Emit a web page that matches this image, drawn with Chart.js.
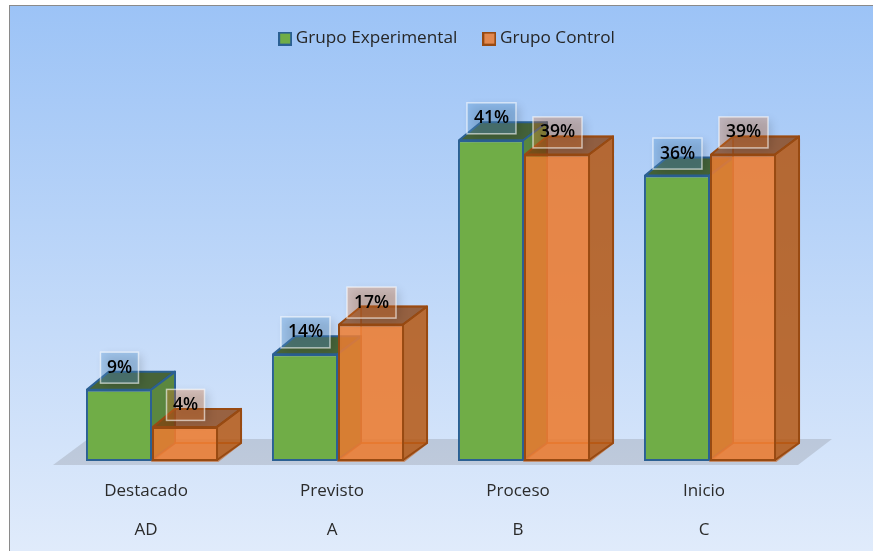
<!DOCTYPE html>
<html>
<head>
<meta charset="utf-8">
<style>
html, body { margin: 0; padding: 0; background: #fff; }
canvas { display: block; }
</style>
<script src="https://cdn.jsdelivr.net/npm/chart.js@4/dist/chart.umd.min.js"></script>
</head>
<body>
<canvas id="chart" width="873" height="551"></canvas>
<script>
const categories = ['Destacado', 'Previsto', 'Proceso', 'Inicio'];
const levels = ['AD', 'A', 'B', 'C'];
const seriesNames = ['Grupo Experimental', 'Grupo Control'];
// percentages, shown rounded on the labels
const experimental = [9.1, 13.6, 40.9, 36.4];
const control = [4.35, 17.4, 39.1, 39.1];

const FONT = '"Open Sans", sans-serif';
const DEPTH_X = 23;
const DEPTH_Y = 18;

const looks = [
    { front: '#70ad47', line: '#2b6093', side: 'rgba(84,130,53,0.95)', top: 'rgba(56,87,35,0.9)', inner: null, tag: 'rgba(91,155,213,0.35)' },
    { front: 'rgba(237,125,49,0.85)', line: '#984a12', side: 'rgba(180,85,15,0.8)', top: 'rgba(132,60,12,0.72)', inner: 'rgba(197,90,17,0.2)', innerLine: 'rgba(197,90,17,0.55)', tag: 'rgba(237,125,49,0.3)' }
];

const quad = (ctx, pts, fill, stroke) => {
    ctx.beginPath();
    pts.forEach((p, i) => i ? ctx.lineTo(p[0], p[1]) : ctx.moveTo(p[0], p[1]));
    ctx.closePath();
    if (fill) { ctx.fillStyle = fill; ctx.fill(); }
    if (stroke) { ctx.strokeStyle = stroke; ctx.lineWidth = 2; ctx.lineJoin = 'round'; ctx.stroke(); }
};

// Small square for the legend, so the text can sit close to it
const legendSwatch = (look) => {
    const c = document.createElement('canvas');
    c.width = 14;
    c.height = 14;
    const g = c.getContext('2d');
    g.fillStyle = look.front;
    g.fillRect(1, 1, 12, 12);
    g.strokeStyle = look.line;
    g.lineWidth = 2;
    g.strokeRect(1, 1, 12, 12);
    return c;
};

// Page gradient, frame and the grey floor under the bars
const backdrop = {
    id: 'backdrop',
    beforeDraw: (chart) => {
        const { ctx, width, height, chartArea: { left, right, bottom } } = chart;
        ctx.save();
        ctx.fillStyle = '#fff';
        ctx.fillRect(0, 0, width, height);
        const g = ctx.createLinearGradient(0, 5, 0, height);
        g.addColorStop(0, '#9cc3f6');
        g.addColorStop(1, '#e0ebfb');
        ctx.fillStyle = g;
        ctx.fillRect(9, 5, width - 9, height - 5);
        ctx.fillStyle = '#8a8a8a';
        ctx.fillRect(9, 5, width - 9, 1);
        ctx.fillRect(9, 5, 1, height - 5);
        quad(ctx, [
            [left - 6, bottom + 4], [right - 5, bottom + 4],
            [right + 29, bottom - 22], [left + 29, bottom - 22]
        ], 'rgba(115,115,120,0.24)');
        ctx.restore();
    }
};

// Back, side and top faces, then the front face from the library.
// Chart.js paints the first dataset last, here the orange one has to overlap the green.
const bar3d = {
    id: 'bar3d',
    beforeDatasetsDraw: (chart) => {
        const { ctx } = chart;
        looks.forEach((look, d) => {
            const meta = chart.getDatasetMeta(d);
            ctx.save();
            meta.data.forEach(bar => {
                const x1 = bar.x - bar.width / 2;
                const x2 = bar.x + bar.width / 2;
                const yt = bar.y;
                const yb = bar.base;
                if (look.inner) {
                    quad(ctx, [[x1 + DEPTH_X, yt - DEPTH_Y], [x2 + DEPTH_X, yt - DEPTH_Y], [x2 + DEPTH_X, yb - DEPTH_Y], [x1 + DEPTH_X, yb - DEPTH_Y]], look.inner, look.innerLine);
                    quad(ctx, [[x1, yb], [x1 + DEPTH_X, yb - DEPTH_Y], [x2 + DEPTH_X, yb - DEPTH_Y], [x2, yb]], look.inner, look.innerLine);
                }
                quad(ctx, [[x2 - 1, yt], [x2 + DEPTH_X, yt - DEPTH_Y], [x2 + DEPTH_X, yb - DEPTH_Y], [x2 - 1, yb - 1]], look.side, look.line);
                quad(ctx, [[x1 + 1, yt], [x1 + DEPTH_X, yt - DEPTH_Y], [x2 + DEPTH_X, yt - DEPTH_Y], [x2 - 1, yt]], look.top, look.line);
            });
            ctx.restore();
            meta.controller.draw();
        });
    },
    beforeDatasetDraw: () => false
};

// Value tags above each bar
const valueTags = {
    id: 'valueTags',
    afterDatasetsDraw: (chart) => {
        const { ctx } = chart;
        ctx.save();
        ctx.font = '600 17.5px ' + FONT;
        ctx.textAlign = 'center';
        ctx.textBaseline = 'middle';
        chart.data.datasets.forEach((ds, d) => {
            chart.getDatasetMeta(d).data.forEach((bar, i) => {
                const text = Math.round(ds.data[i]) + '%';
                const w = text.length > 2 ? 49 : 38;
                const h = 31;
                const cx = bar.x + 0.5;
                const cy = bar.y - 22;
                ctx.save();
                ctx.shadowColor = 'rgba(0,0,0,0.45)';
                ctx.shadowBlur = 9;
                ctx.shadowOffsetX = 4;
                ctx.shadowOffsetY = 3;
                ctx.fillStyle = looks[d].tag;
                ctx.fillRect(cx - w / 2, cy - h / 2, w, h);
                ctx.restore();
                ctx.strokeStyle = 'rgba(255,255,255,0.6)';
                ctx.lineWidth = 1.5;
                ctx.strokeRect(cx - w / 2, cy - h / 2, w, h);
                ctx.fillStyle = '#000';
                ctx.fillText(text, cx, cy);
            });
        });
        ctx.restore();
    }
};

// The legend sits centred on the whole frame rather than on the plot
const legendShift = {
    id: 'legendShift',
    afterLayout: (chart) => {
        chart.legend.left += 18;
        chart.legend.right += 18;
    }
};

new Chart(document.getElementById('chart').getContext('2d'), {
    type: 'bar',
    data: {
        labels: categories.map((c, i) => [c, levels[i]]),
        datasets: [
            {
                label: seriesNames[0],
                data: experimental,
                backgroundColor: looks[0].front,
                borderColor: looks[0].line,
                borderWidth: 2,
                borderSkipped: false
            },
            {
                label: seriesNames[1],
                data: control,
                backgroundColor: looks[1].front,
                borderColor: looks[1].line,
                borderWidth: 2,
                borderSkipped: false
            }
        ]
    },
    options: {
        responsive: false,
        animation: false,
        events: [],
        layout: { padding: { left: 59, right: 70, top: 0, bottom: 0 } },
        categoryPercentage: 0.71,
        barPercentage: 1,
        scales: {
            x: {
                grid: { display: false },
                border: { display: false },
                afterFit: (scale) => { scale.height = 90; },
                ticks: {
                    autoSkip: false,
                    maxRotation: 0,
                    labelOffset: -6,
                    padding: 3,
                    color: '#2b2b2b',
                    font: { family: FONT, size: 17, lineHeight: 2.29 }
                }
            },
            y: {
                display: false,
                min: 0,
                max: 51.5
            }
        },
        plugins: {
            tooltip: { enabled: false },
            legend: {
                position: 'top',
                labels: {
                    usePointStyle: true,
                    pointStyleWidth: 4,
                    boxHeight: 13,
                    padding: 30,
                    color: '#262626',
                    font: { family: FONT, size: 17.2 },
                    generateLabels: (chart) => Chart.defaults.plugins.legend.labels.generateLabels(chart)
                        .map((item, i) => ({ ...item, pointStyle: legendSwatch(looks[i]) }))
                }
            }
        }
    },
    plugins: [backdrop, bar3d, valueTags, legendShift]
});
</script>
</body>
</html>
